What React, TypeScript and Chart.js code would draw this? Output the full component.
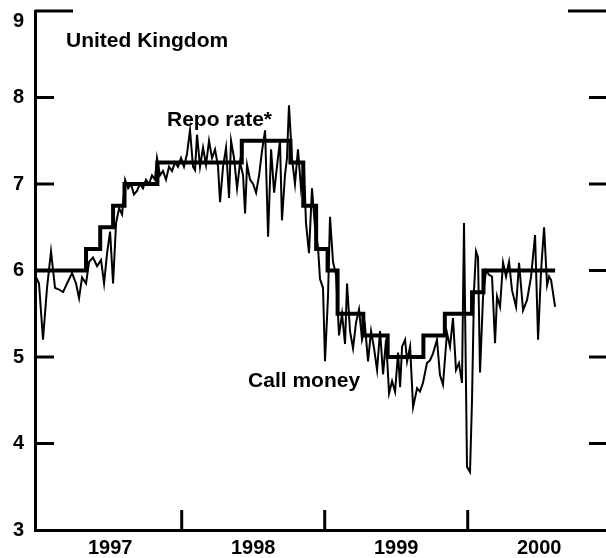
import React, { useEffect, useRef } from 'react';
import { Chart, registerables } from 'chart.js';

Chart.register(...registerables);

// Repo rate (step changes): decimal year of change, new rate
const repoDates = [
  1996.974, 1997.331, 1997.43, 1997.52, 1997.6, 1997.83, 1998.42, 1998.76,
  1998.85, 1998.94, 1999.02, 1999.09, 1999.27, 1999.44, 1999.69, 1999.84,
  2000.03, 2000.11, 2000.611,
];
const repoRates = [
  6.0, 6.25, 6.5, 6.75, 7.0, 7.25, 7.5, 7.25,
  6.75, 6.25, 6.0, 5.5, 5.25, 5.0, 5.25, 5.5,
  5.75, 6.0, 6.0,
];

// Call money rate (weekly-ish readings): decimal year, rate
const callDates = [
  1996.974, 1997.002, 1997.03, 1997.058, 1997.086, 1997.114, 1997.142, 1997.17,
  1997.198, 1997.233, 1997.261, 1997.282, 1997.303, 1997.331, 1997.352, 1997.38,
  1997.408, 1997.436, 1997.457, 1997.478, 1997.499, 1997.52, 1997.541, 1997.562,
  1997.583, 1997.604, 1997.625, 1997.645, 1997.666, 1997.687, 1997.708, 1997.729,
  1997.75, 1997.771, 1997.792, 1997.813, 1997.827, 1997.848, 1997.869, 1997.89,
  1997.911, 1997.932, 1997.953, 1997.974, 1997.995, 1998.016, 1998.037, 1998.058,
  1998.079, 1998.093, 1998.107, 1998.128, 1998.149, 1998.17, 1998.191, 1998.212,
  1998.233, 1998.254, 1998.268, 1998.289, 1998.31, 1998.331, 1998.345, 1998.366,
  1998.387, 1998.408, 1998.429, 1998.443, 1998.457, 1998.478, 1998.499, 1998.52,
  1998.541, 1998.562, 1998.583, 1998.604, 1998.625, 1998.646, 1998.666, 1998.687,
  1998.701, 1998.722, 1998.736, 1998.75, 1998.771, 1998.792, 1998.813, 1998.834,
  1998.855, 1998.869, 1998.89, 1998.911, 1998.932, 1998.953, 1998.967, 1998.988,
  1999.002, 1999.023, 1999.037, 1999.058, 1999.079, 1999.1, 1999.121, 1999.142,
  1999.156, 1999.177, 1999.198, 1999.219, 1999.24, 1999.261, 1999.282, 1999.303,
  1999.324, 1999.345, 1999.366, 1999.387, 1999.408, 1999.429, 1999.45, 1999.471,
  1999.492, 1999.513, 1999.527, 1999.541, 1999.562, 1999.576, 1999.597, 1999.618,
  1999.646, 1999.666, 1999.687, 1999.715, 1999.736, 1999.757, 1999.785, 1999.806,
  1999.827, 1999.855, 1999.876, 1999.897, 1999.918, 1999.939, 1999.96, 1999.974,
  1999.995, 2000.016, 2000.03, 2000.044, 2000.058, 2000.072, 2000.086, 2000.107,
  2000.128, 2000.149, 2000.17, 2000.191, 2000.205, 2000.226, 2000.247, 2000.268,
  2000.289, 2000.31, 2000.338, 2000.359, 2000.387, 2000.415, 2000.443, 2000.471,
  2000.492, 2000.513, 2000.534, 2000.555, 2000.569, 2000.583, 2000.611,
];
const callRates = [
  5.95, 5.85, 5.2, 5.8, 6.22, 5.8, 5.78, 5.75,
  5.85, 5.97, 5.85, 5.68, 5.92, 5.85, 6.1, 6.15,
  6.05, 6.12, 5.85, 6.2, 6.45, 5.85, 6.55, 6.72,
  6.65, 7.05, 6.95, 7.0, 6.88, 6.92, 7.0, 6.95,
  7.05, 7.0, 7.1, 7.05, 7.3, 7.1, 7.15, 7.05,
  7.2, 7.15, 7.25, 7.2, 7.3, 7.2, 7.35, 7.62,
  7.2, 7.16, 7.57, 7.2, 7.42, 7.22, 7.5, 7.3,
  7.4, 7.2, 6.79, 7.2, 7.42, 6.84, 7.5, 7.3,
  6.95, 7.25, 7.1, 6.66, 7.22, 7.05, 7.0, 6.9,
  7.1, 7.39, 7.62, 6.39, 7.4, 6.9, 7.2, 7.5,
  6.58, 7.1, 7.3, 7.91, 7.3, 7.0, 7.4, 6.95,
  7.2, 6.55, 6.2, 6.95, 6.5, 6.27, 5.9, 5.8,
  4.95, 5.7, 6.62, 6.1, 5.95, 5.25, 5.5, 5.15,
  5.85, 5.3, 5.1, 5.4, 5.55, 5.2, 5.35, 4.95,
  5.3, 5.1, 4.85, 5.3, 4.8, 5.2, 4.58, 4.72,
  4.6, 5.05, 4.65, 5.12, 5.2, 4.95, 5.12, 4.42,
  4.64, 4.6, 4.7, 4.93, 4.96, 5.04, 5.2, 4.79,
  4.68, 5.28, 5.12, 5.45, 4.85, 4.93, 4.7, 6.55,
  3.73, 3.67, 4.5, 5.77, 6.22, 6.15, 4.82, 5.69,
  6.0, 5.95, 5.93, 5.16, 5.7, 5.58, 6.09, 5.93,
  6.1, 5.77, 5.58, 6.09, 5.54, 5.66, 5.93, 6.41,
  5.2, 6.0, 6.5, 5.83, 5.93, 5.89, 5.58,
];

const yTickValues = [3, 4, 5, 6, 7, 8, 9];
const yearBoundaries = [1998, 1999, 2000];
const yearLabelPositions = [1997.5, 1998.5, 1999.5, 2000.5];
const yearLabels = ['1997', '1998', '1999', '2000'];

const annotations = [
  { text: 'United Kingdom', x: 1997.191, y: 8.584 },
  { text: 'Repo rate*', x: 1997.897, y: 7.67 },
  { text: 'Call money', x: 1998.464, y: 4.653 },
];

const FONT = '"Liberation Sans", Arial, Helvetica, sans-serif';

const frameTicks = {
  id: 'frameTicks',
  afterDraw(chart: any) {
    const { ctx, chartArea, scales } = chart;
    const ys = scales.y;
    const xs = scales.x;
    ctx.save();
    ctx.strokeStyle = '#000';
    ctx.lineWidth = 3;
    ctx.lineCap = 'butt';
    yTickValues.forEach((v) => {
      if (v === 3) return;
      const py = ys.getPixelForValue(v);
      const lenL = v === 9 ? 38 : 19;
      const lenR = v === 9 ? 38 : 17;
      ctx.beginPath();
      ctx.moveTo(chartArea.left, py);
      ctx.lineTo(chartArea.left + lenL, py);
      ctx.stroke();
      ctx.beginPath();
      ctx.moveTo(chartArea.right - lenR, py);
      ctx.lineTo(chartArea.right, py);
      ctx.stroke();
    });
    yearBoundaries.forEach((yr) => {
      const px = xs.getPixelForValue(yr);
      ctx.beginPath();
      ctx.moveTo(px, chartArea.bottom);
      ctx.lineTo(px, chartArea.bottom - 20);
      ctx.stroke();
    });
    ctx.fillStyle = '#000';
    ctx.font = `bold 21px ${FONT}`;
    ctx.textBaseline = 'alphabetic';
    ctx.textAlign = 'left';
    annotations.forEach((a) => {
      ctx.fillText(a.text, xs.getPixelForValue(a.x), ys.getPixelForValue(a.y));
    });
    ctx.restore();
  },
};

export default function App() {
  const ref = useRef<HTMLCanvasElement>(null);
  useEffect(() => {
    if (!ref.current) return;
    const chart = new Chart(ref.current, {
      type: 'line',
      data: {
        datasets: [
          {
            label: 'Call money',
            data: callDates.map((d, i) => ({ x: d, y: callRates[i] })),
            borderColor: '#000',
            borderWidth: 2,
            pointRadius: 0,
            tension: 0,
            fill: false,
          },
          {
            label: 'Repo rate*',
            data: repoDates.map((d, i) => ({ x: d, y: repoRates[i] })),
            borderColor: '#000',
            borderWidth: 4,
            pointRadius: 0,
            stepped: true,
            fill: false,
          },
        ],
      },
      options: {
        animation: false,
        responsive: false,
        layout: { padding: { top: 11, left: 0, right: 0, bottom: 0 } },
        plugins: { legend: { display: false }, tooltip: { enabled: false } },
        scales: {
          x: {
            type: 'linear',
            min: 1996.974,
            max: 2000.967,
            afterBuildTicks: (s: any) => {
              s.ticks = yearLabelPositions.map((v) => ({ value: v }));
            },
            afterFit: (s: any) => {
              s.height = 28;
              s.paddingLeft = 0;
              s.paddingRight = 0;
            },
            grid: { display: false, drawTicks: false },
            border: { display: true, color: '#000', width: 3 },
            ticks: {
              color: '#000',
              font: { family: FONT, size: 20, weight: 'bold' },
              padding: 6,
              autoSkip: false,
              maxRotation: 0,
              callback: (v: any) => {
                const i = yearLabelPositions.indexOf(Number(v));
                return i >= 0 ? yearLabels[i] : '';
              },
            },
          },
          y: {
            type: 'linear',
            min: 3,
            max: 9,
            afterBuildTicks: (s: any) => {
              s.ticks = yTickValues.map((v) => ({ value: v }));
            },
            afterFit: (s: any) => {
              s.width = 35;
              s.paddingTop = 0;
              s.paddingBottom = 0;
            },
            grid: { display: false, drawTicks: false },
            border: { display: true, color: '#000', width: 3 },
            ticks: {
              color: '#000',
              font: { family: FONT, size: 20, weight: 'bold', lineHeight: 1 },
              padding: 11,
              callback: (v: any) => (Number(v) === 9 ? ['', '9'] : String(v)),
            },
          },
        },
      },
      plugins: [frameTicks],
    });
    return () => chart.destroy();
  }, []);
  return (
    <div style={{ position: 'absolute', left: 0, top: 0, width: 606, height: 558, background: '#fff' }}>
      <canvas ref={ref} width={606} height={558} style={{ display: 'block' }} />
    </div>
  );
}
